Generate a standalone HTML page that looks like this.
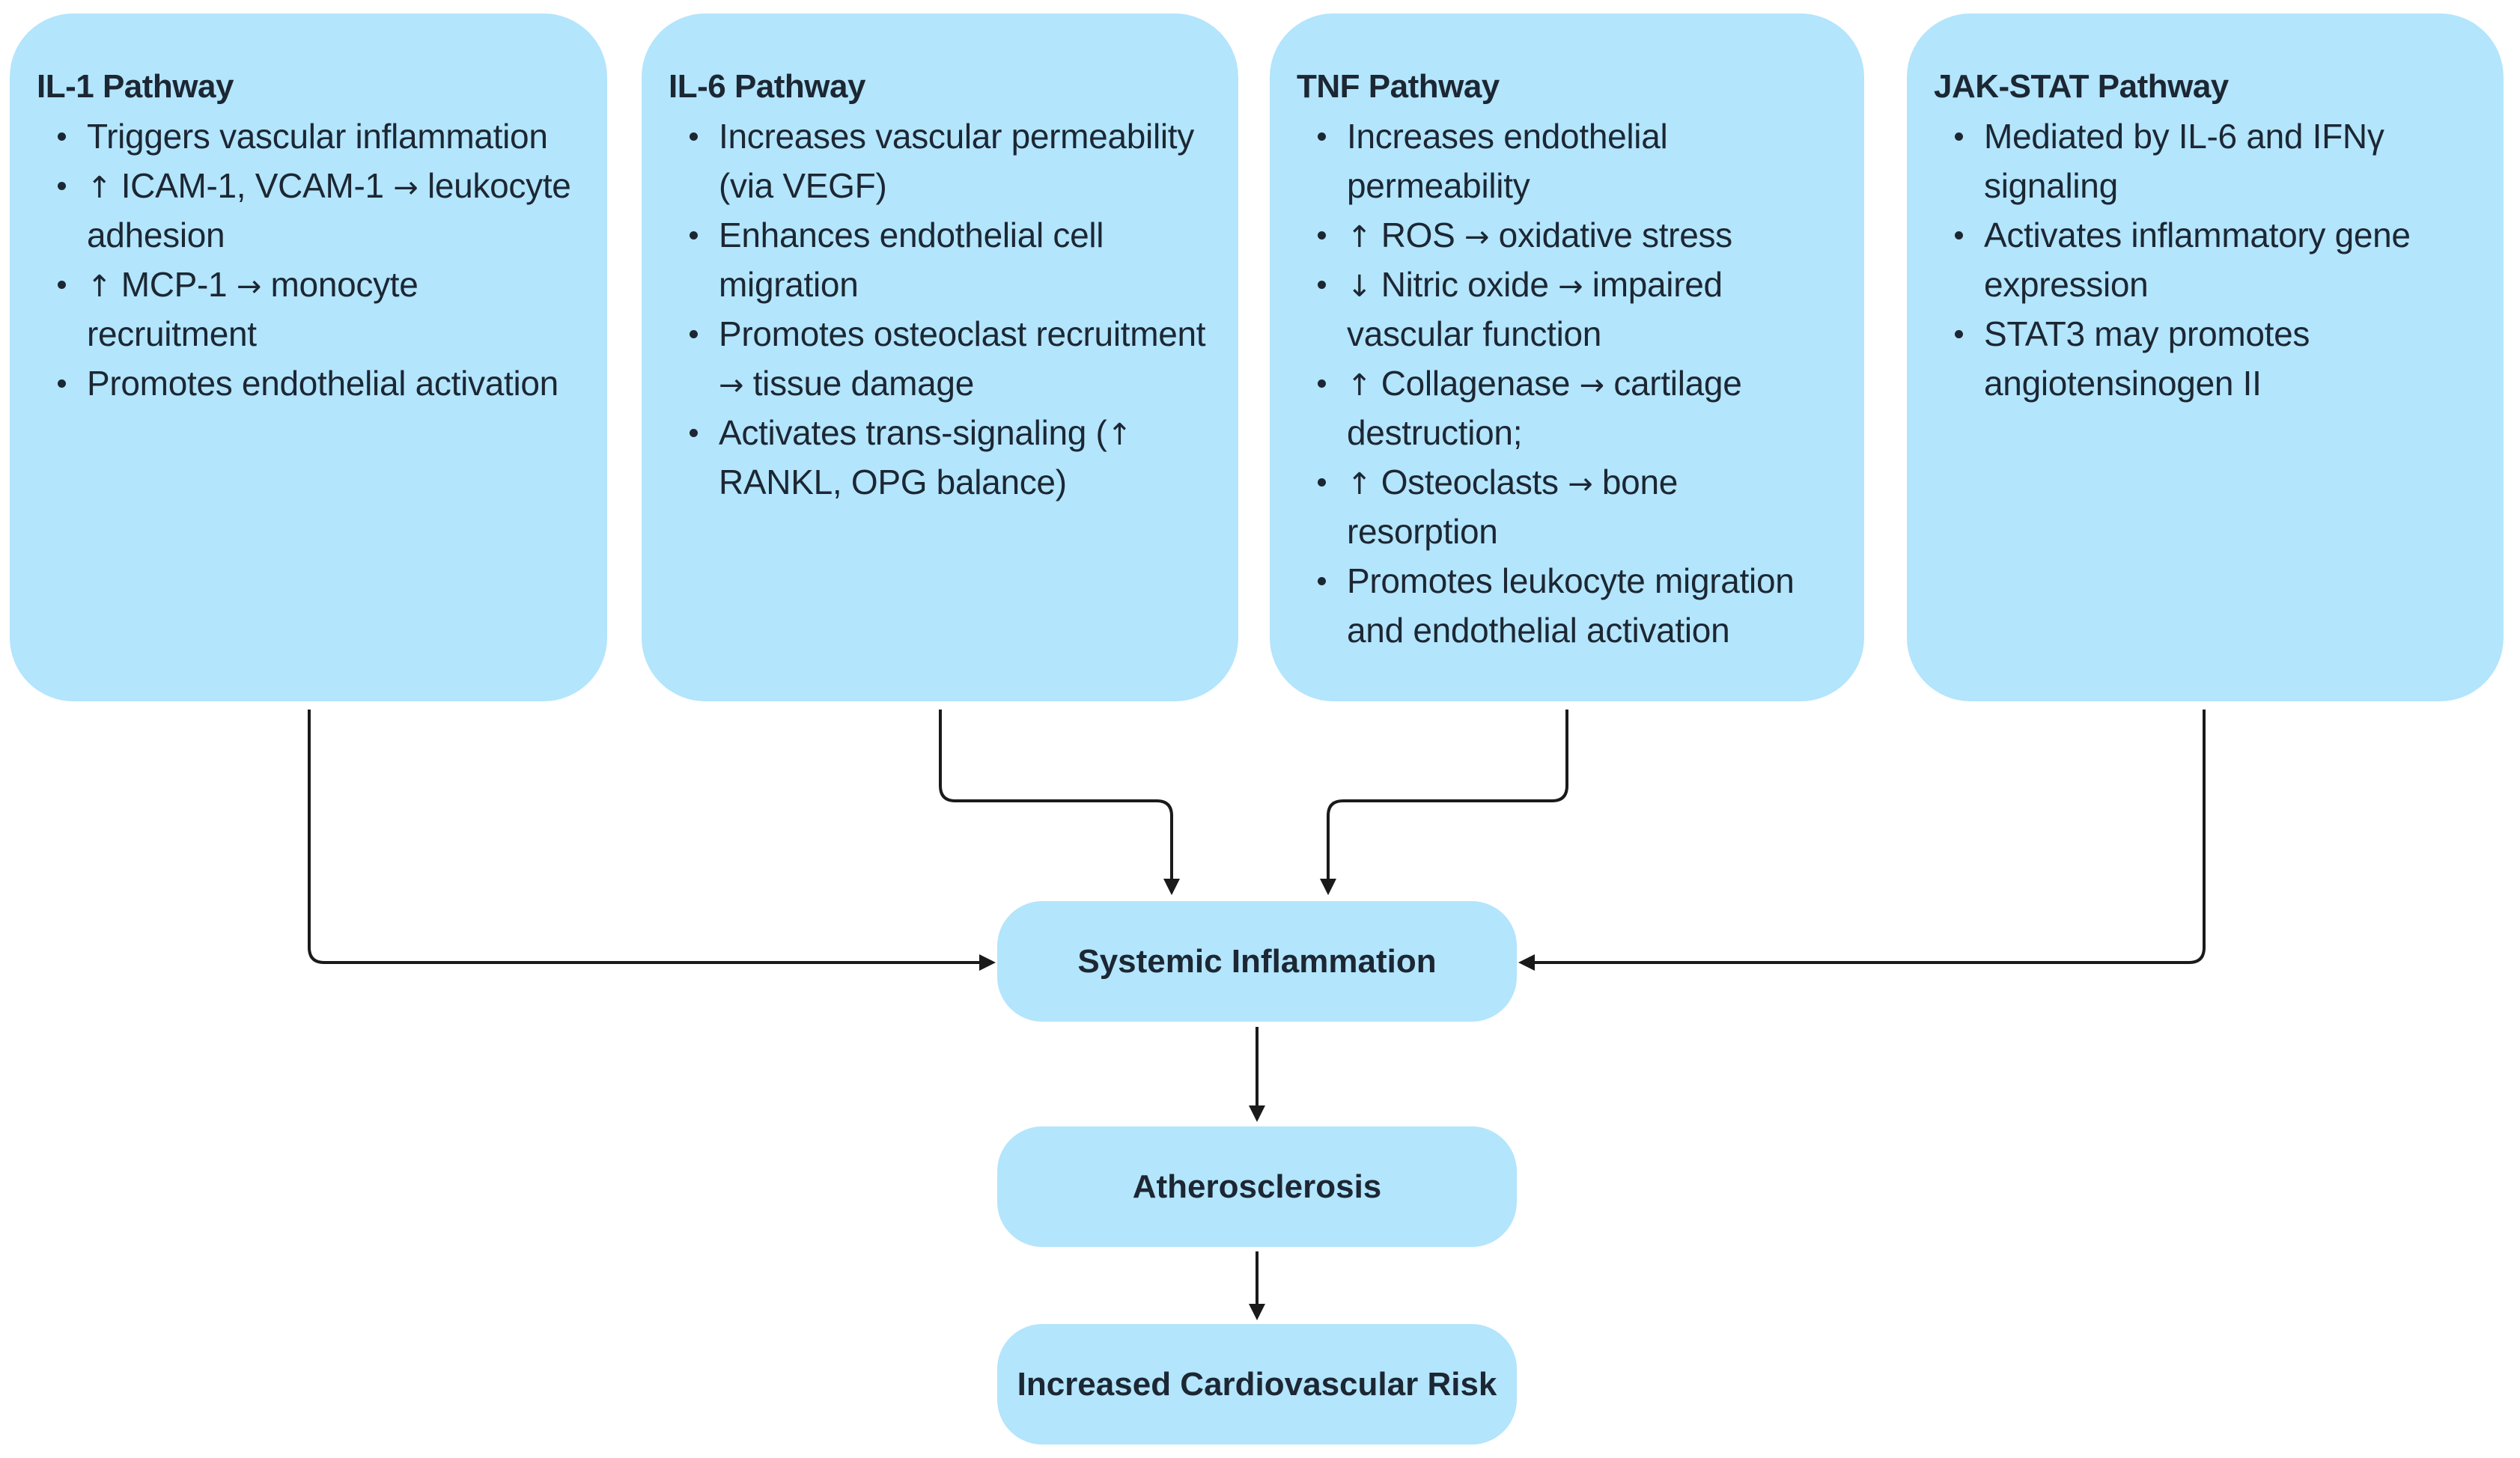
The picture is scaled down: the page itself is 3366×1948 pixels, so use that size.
<!DOCTYPE html>
<html><head><meta charset="utf-8"><style>
body{margin:0;width:3366px;height:1948px;background:#fff;position:relative;overflow:hidden;font-family:"Liberation Sans",sans-serif;color:#1c2733}
.box{position:absolute;top:18px;height:919px;background:#b3e5fc;border-radius:85px}
.t{position:absolute;left:36px;top:64px;line-height:67px;font-size:44px;font-weight:bold;white-space:nowrap;letter-spacing:-0.5px}
ul{position:absolute;left:0;top:131px;margin:0;padding:0;list-style:none}
li{position:relative;padding-left:103px;line-height:66px;font-size:46px;white-space:nowrap;letter-spacing:-0.3px}
li:before{content:"";position:absolute;left:64px;top:28px;width:11px;height:11px;border-radius:50%;background:#1c2733}
.a{font-family:"DejaVu Sans",sans-serif;font-size:40px;line-height:0;vertical-align:baseline}
.n{position:absolute;left:1332px;width:694px;height:161px;background:#b3e5fc;border-radius:60px;display:flex;align-items:center;justify-content:center;font-weight:bold;font-size:44px}
</style></head><body>
<div class="box" style="left:13px;width:798px"><div class="t">IL-1 Pathway</div><ul>
<li>Triggers vascular inflammation</li><li><span class="a">↑</span> ICAM-1, VCAM-1 <span class="a">→</span> leukocyte<br>adhesion</li><li><span class="a">↑</span> MCP-1 <span class="a">→</span> monocyte<br>recruitment</li><li>Promotes endothelial activation</li></ul></div>
<div class="box" style="left:857px;width:797px"><div class="t">IL-6 Pathway</div><ul>
<li>Increases vascular permeability<br>(via VEGF)</li><li>Enhances endothelial cell<br>migration</li><li>Promotes osteoclast recruitment<br><span class="a">→</span> tissue damage</li><li>Activates trans-signaling (<span class="a">↑</span><br>RANKL, OPG balance)</li></ul></div>
<div class="box" style="left:1696px;width:794px"><div class="t">TNF Pathway</div><ul>
<li>Increases endothelial<br>permeability</li><li><span class="a">↑</span> ROS <span class="a">→</span> oxidative stress</li><li><span class="a">↓</span> Nitric oxide <span class="a">→</span> impaired<br>vascular function</li><li><span class="a">↑</span> Collagenase <span class="a">→</span> cartilage<br>destruction;</li><li><span class="a">↑</span> Osteoclasts <span class="a">→</span> bone<br>resorption</li><li>Promotes leukocyte migration<br>and endothelial activation</li></ul></div>
<div class="box" style="left:2547px;width:797px"><div class="t">JAK-STAT Pathway</div><ul>
<li>Mediated by IL-6 and IFNγ<br>signaling</li><li>Activates inflammatory gene<br>expression</li><li>STAT3 may promotes<br>angiotensinogen II</li></ul></div>
<div class="n" style="top:1204px">Systemic Inflammation</div>
<div class="n" style="top:1505px">Atherosclerosis</div>
<div class="n" style="top:1769px">Increased Cardiovascular Risk</div>
<svg style="position:absolute;left:0;top:0" width="3366" height="1948">
<g fill="none" stroke="#1a1a1a" stroke-width="4">
<path d="M413 948 V1266 Q413 1286 433 1286 H1312"/>
<path d="M2944 948 V1266 Q2944 1286 2924 1286 H2046"/>
<path d="M1256 948 V1050 Q1256 1070 1276 1070 H1545 Q1565 1070 1565 1090 V1176"/>
<path d="M2093 948 V1050 Q2093 1070 2073 1070 H1794 Q1774 1070 1774 1090 V1176"/>
<path d="M1679 1372 V1480"/>
<path d="M1679 1672 V1745"/>
</g>
<g fill="#1a1a1a">
<path d="M1330 1286 l-22 -11 v22z"/>
<path d="M2028 1286 l22 -11 v22z"/>
<path d="M1565 1196 l-11 -22 h22z"/>
<path d="M1774 1196 l-11 -22 h22z"/>
<path d="M1679 1499 l-11 -22 h22z"/>
<path d="M1679 1764 l-11 -22 h22z"/>
</g></svg>
</body></html>
